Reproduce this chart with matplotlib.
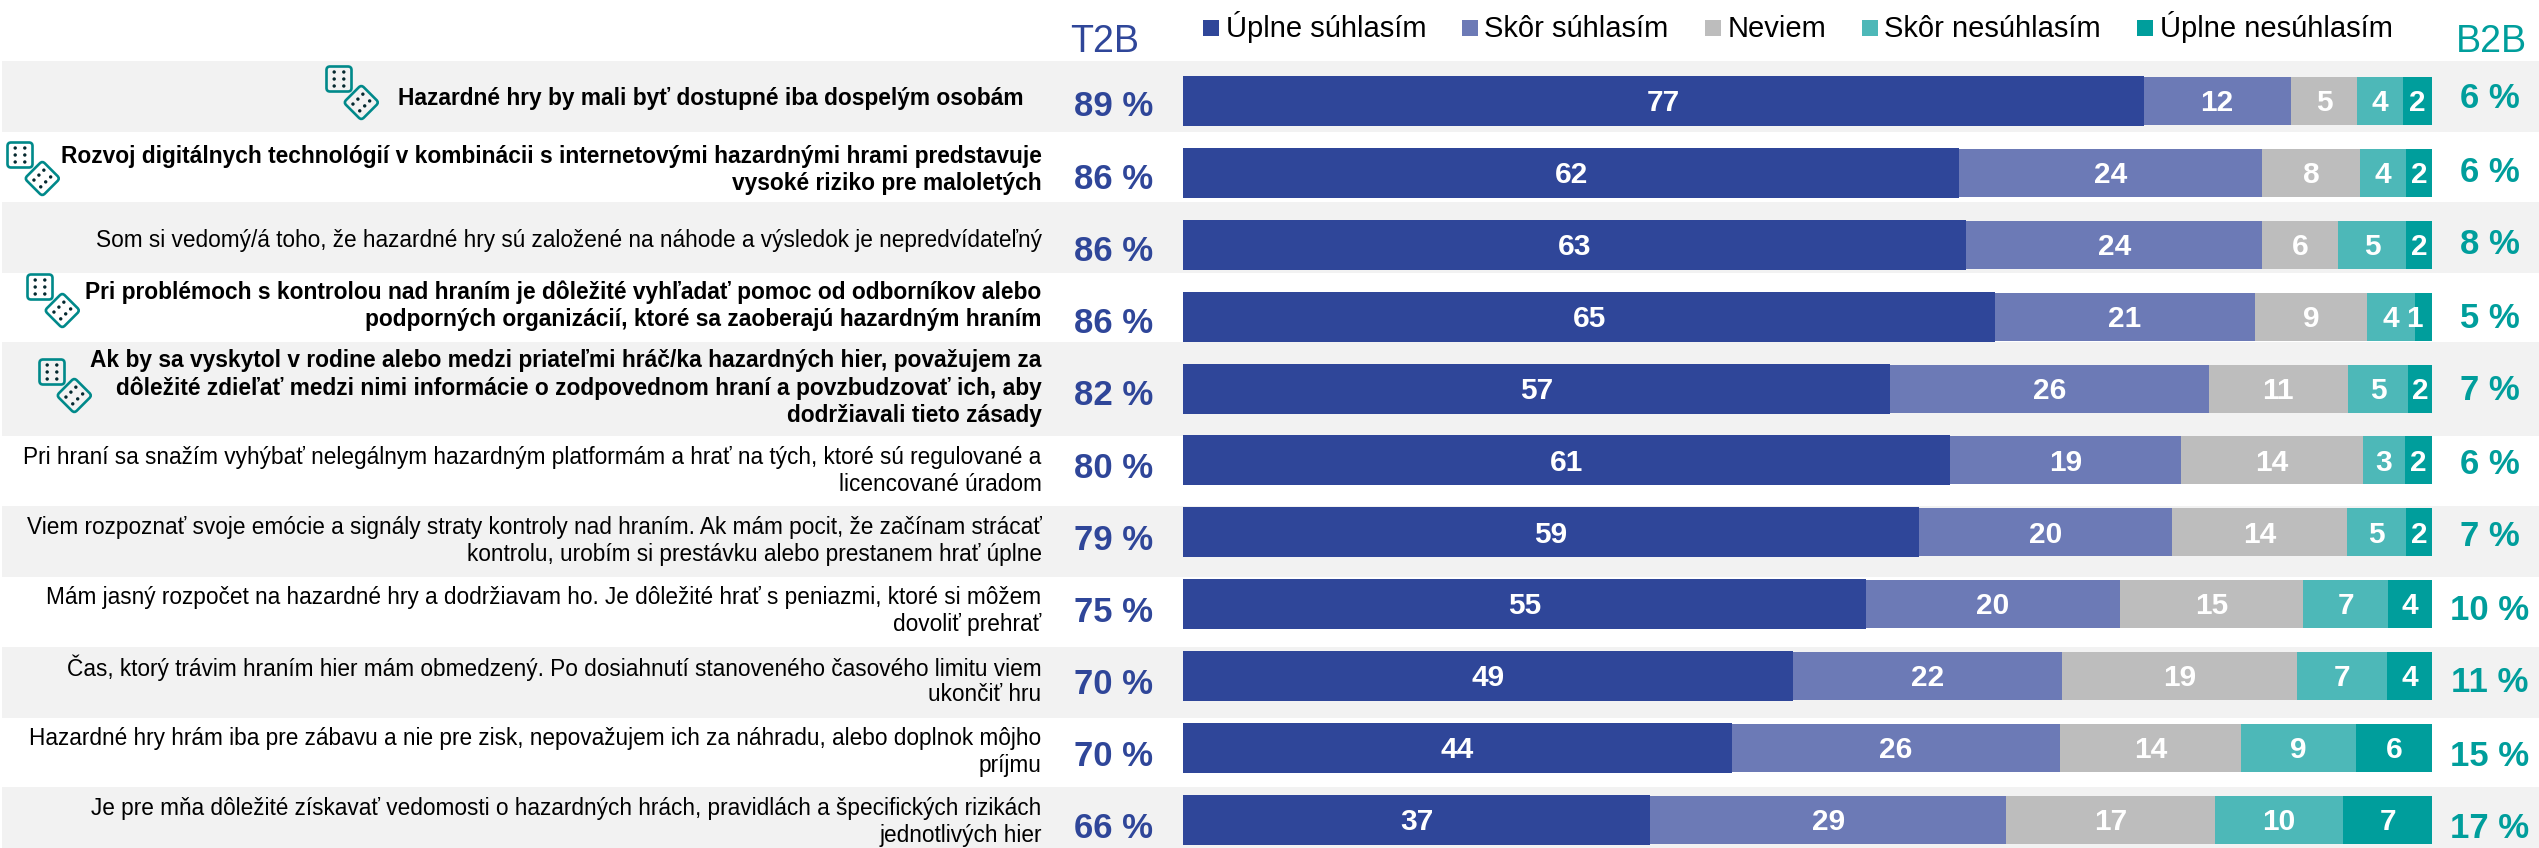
import matplotlib
matplotlib.use("Agg")
import matplotlib.pyplot as plt
from matplotlib.patches import FancyBboxPatch, Circle, Rectangle
from matplotlib.transforms import Affine2D

W, H = 2539, 848

# survey statements, one list per row (line breaks as in the chart)
statements = [
    ["Hazardné hry by mali byť dostupné iba dospelým osobám"],
    ["Rozvoj digitálnych technológií v kombinácii s internetovými hazardnými hrami predstavuje",
     "vysoké riziko pre maloletých"],
    ["Som si vedomý/á toho, že hazardné hry sú založené na náhode a výsledok je nepredvídateľný"],
    ["Pri problémoch s kontrolou nad hraním je dôležité vyhľadať pomoc od odborníkov alebo",
     "podporných organizácií, ktoré sa zaoberajú hazardným hraním"],
    ["Ak by sa vyskytol v rodine alebo medzi priateľmi hráč/ka hazardných hier, považujem za",
     "dôležité zdieľať medzi nimi informácie o zodpovednom hraní a povzbudzovať ich, aby",
     "dodržiavali tieto zásady"],
    ["Pri hraní sa snažím vyhýbať nelegálnym hazardným platformám a hrať na tých, ktoré sú regulované a",
     "licencované úradom"],
    ["Viem rozpoznať svoje emócie a signály straty kontroly nad hraním. Ak mám pocit, že začínam strácať",
     "kontrolu, urobím si prestávku alebo prestanem hrať úplne"],
    ["Mám jasný rozpočet na hazardné hry a dodržiavam ho. Je dôležité hrať s peniazmi, ktoré si môžem",
     "dovoliť prehrať"],
    ["Čas, ktorý trávim hraním hier mám obmedzený. Po dosiahnutí stanoveného časového limitu viem",
     "ukončiť hru"],
    ["Hazardné hry hrám iba pre zábavu a nie pre zisk, nepovažujem ich za náhradu, alebo doplnok môjho",
     "príjmu"],
    ["Je pre mňa dôležité získavať vedomosti o hazardných hrách, pravidlách a špecifických rizikách",
     "jednotlivých hier"],
]
bold_rows = [0, 1, 3, 4]

legend_names = ["Úplne súhlasím", "Skôr súhlasím", "Neviem", "Skôr nesúhlasím", "Úplne nesúhlasím"]

# bar widths, printed labels are the rounded ones
uplne_suhlasim = [76.9, 62.1, 62.7, 65.0, 56.6, 61.4, 58.9, 54.7, 48.8, 43.9, 37.4]
skor_suhlasim = [11.8, 24.3, 23.7, 20.8, 25.5, 18.5, 20.3, 20.3, 21.6, 26.3, 28.5]
neviem = [5.3, 7.8, 6.1, 9.0, 11.2, 14.6, 14.0, 14.7, 18.8, 14.5, 16.7]
skor_nesuhlasim = [3.7, 3.7, 5.4, 3.8, 4.8, 3.3, 4.7, 6.8, 7.2, 9.2, 10.3]
uplne_nesuhlasim = [2.3, 2.1, 2.1, 1.4, 1.9, 2.2, 2.1, 3.5, 3.6, 6.1, 7.2]

labels_1 = [77, 62, 63, 65, 57, 61, 59, 55, 49, 44, 37]
labels_2 = [12, 24, 24, 21, 26, 19, 20, 20, 22, 26, 29]
labels_3 = [5, 8, 6, 9, 11, 14, 14, 15, 19, 14, 17]
labels_4 = [4, 4, 5, 4, 5, 3, 5, 7, 7, 9, 10]
labels_5 = [2, 2, 2, 1, 2, 2, 2, 4, 4, 6, 7]

t2b = [89, 86, 86, 86, 82, 80, 79, 75, 70, 70, 66]
b2b = [6, 6, 8, 5, 7, 6, 7, 10, 11, 15, 17]

# colours
colors = ["#2F4699", "#6C7AB6", "#BDBDBD", "#4DB8B8", "#009E9C"]
BLUE = "#2F4699"
TEAL = "#009E9C"
BAND = "#F2F2F2"
DICE = "#00898A"

# layout in pixels
band_edges = [(61, 132), (202, 273), (342, 436), (506, 577), (647, 718), (787, 848)]
label_y = [98, 170, 241, 306, 388, 471, 541, 611, 681, 752, 822]
legend_box_x = [1202.5, 1461.6, 1705.4, 1862, 2136.6]
legend_text_x = [1226, 1484.5, 1728, 1884, 2159.5]
dice_offset = [(0, 0), (-319, 76), (-299, 208), (-287, 293)]
BAR_X0, BAR_X1 = 1183.4, 2432
ROW0, ROW_STEP = 101, 71.9

plt.rcParams["font.family"] = ["Liberation Sans", "DejaVu Sans"]
fig = plt.figure(figsize=(W / 100, H / 100), dpi=100, facecolor="white")

# background axes, units are pixels of the picture
bg = fig.add_axes([0, 0, 1, 1])
bg.set_xlim(0, W)
bg.set_ylim(H, 0)
bg.axis("off")

for top, bottom in band_edges:
    bg.add_patch(Rectangle((2, top), W - 2, bottom - top, color=BAND, lw=0))


def draw_die(cx, cy, angle):
    tr = Affine2D().rotate_deg(angle).translate(cx, cy) + bg.transData
    bg.add_patch(FancyBboxPatch((-10.5, -10.5), 21, 21, boxstyle="round,pad=2,rounding_size=3.5",
                                fc="none", ec=DICE, lw=1.9, transform=tr))
    for dx in (-4.8, 4.8):
        for dy in (-7, 0, 7):
            bg.add_patch(Circle((dx, dy), 1.7, fc="#04282E", ec="none", transform=tr))


for ox, oy in dice_offset:
    draw_die(339 + ox, 79 + oy, 0)
    draw_die(361.3 + ox, 102.5 + oy, 45)

# statements
for i, lines in enumerate(statements):
    right = 1024 if i == 0 else 1041.6
    is_bold = i in bold_rows
    for k, line in enumerate(lines):
        y = label_y[i] + (k - (len(lines) - 1) / 2) * 27.4
        bg.text(right, y, line, ha="right", va="center", fontsize=16.38 if is_bold else 16.32,
                color="black", fontweight="bold" if is_bold else "normal")

# T2B / B2B columns
bg.text(1105, 41.5, "T2B", ha="center", va="center", fontsize=27, color=BLUE)
bg.text(2491, 41.5, "B2B", ha="center", va="center", fontsize=27, color=TEAL)
for i in range(len(t2b)):
    bg.text(1114, 107 + 72.2 * i, f"{t2b[i]} %", ha="center", va="center", fontsize=25,
            fontweight="bold", color=BLUE)
    bg.text(2490, 99 + 73.0 * i, f"{b2b[i]} %", ha="center", va="center", fontsize=25,
            fontweight="bold", color=TEAL)

# legend
for i, name in enumerate(legend_names):
    bg.add_patch(Rectangle((legend_box_x[i], 20), 16, 16, color=colors[i], lw=0))
    bg.text(legend_text_x[i], 37, name, ha="left", va="baseline", fontsize=21, color="black")

# stacked bars
top_px = ROW0 - ROW_STEP / 2
ax = fig.add_axes([BAR_X0 / W, 0, (BAR_X1 - BAR_X0) / W, (H - top_px) / H])
ax.set_xlim(0, 100)
ax.set_ylim((H - ROW0) / ROW_STEP, -0.5)
ax.axis("off")

series = [uplne_suhlasim, skor_suhlasim, neviem, skor_nesuhlasim, uplne_nesuhlasim]
bar_labels = [labels_1, labels_2, labels_3, labels_4, labels_5]
rows = list(range(len(t2b)))
left = [0.0] * len(rows)
for s, values in enumerate(series):
    height = 50 / ROW_STEP if s == 0 else 48 / ROW_STEP
    ax.barh(rows, values, left=left, height=height, color=colors[s], lw=0)
    for i in rows:
        x = left[i] + values[i] / 2
        if bar_labels[s][i] == 1:
            x -= 0.7
        ax.text(x, i + 0.03, str(bar_labels[s][i]), ha="center", va="center", fontsize=21.5,
                fontweight="bold", color="white")
    left = [a + b for a, b in zip(left, values)]

fig.savefig("out.png", dpi=100)
